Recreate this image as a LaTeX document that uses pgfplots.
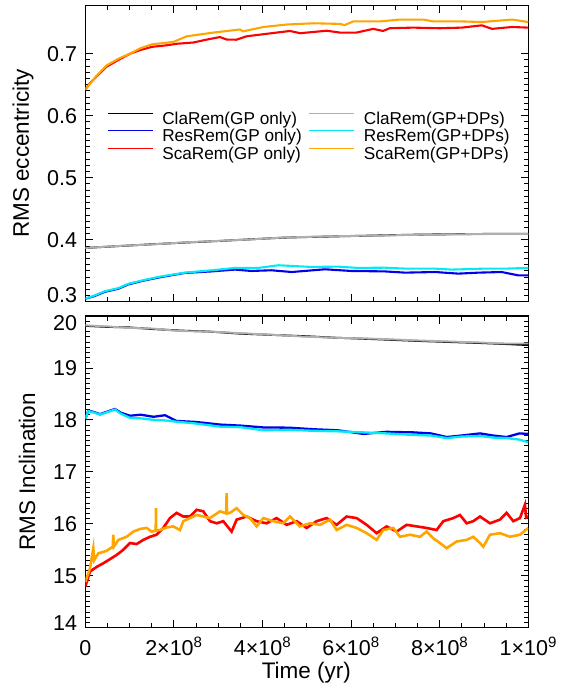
\documentclass[border=0pt]{standalone}
\usepackage{fontspec}
\setmainfont{Liberation Sans}
\usepackage{pgfplots}
\pgfplotsset{compat=1.18}
\definecolor{cgray}{RGB}{175,175,175}
\definecolor{cblue}{RGB}{0,0,235}
\definecolor{ccyan}{RGB}{0,235,245}
\definecolor{cred}{RGB}{255,0,0}
\definecolor{corange}{RGB}{255,165,0}
\pgfplotsset{
  myaxis/.style={
    scale only axis, width=443bp,
    xmin=0, xmax=10, xtick={0,2,...,10}, minor x tick num=3,
    tick align=inside, tick pos=both,
    major tick length=7.5bp, minor tick length=4.5bp,
    every tick/.style={black, line width=0.9bp},
    axis line style={line width=1.1bp},
    tick label style={font=\fontsize{21.5bp}{24bp}\selectfont},
    label style={font=\fontsize{22.5bp}{26bp}\selectfont},
    yticklabel style={anchor=east, inner sep=0pt, xshift=-8bp},
  }
}
\begin{document}
\begin{tikzpicture}
\path[use as bounding box] (-85.3bp,-57.3bp) rectangle (475.7bp,627.7bp);
% ---------------- bottom panel ----------------
\begin{axis}[myaxis, name=bot, at={(0,0)}, anchor=south west,
  height=311.7bp, ymin=14, ymax=20, ytick={14,...,20}, minor y tick num=9,
  yticklabels={\raisebox{5bp}[0.72em][0pt]{14},15,16,17,18,19,\raisebox{-7bp}[0.72em][0pt]{20}},
  xticklabels={0,2×10\textsuperscript{8},4×10\textsuperscript{8},6×10\textsuperscript{8},8×10\textsuperscript{8},1×10\textsuperscript{9}},
  xticklabel style={anchor=base, inner sep=0pt, yshift=-27.3bp},
  xlabel={Time (yr)}, xlabel style={at={(axis description cs:0.499,-0.1457)}, anchor=center},
  ylabel={RMS Inclination}, ylabel style={at={(axis description cs:-0.1316,0.5)}, anchor=center},
]
\addplot[black, line width=1.9bp] coordinates {(0,19.81)(0.5,19.79)(1.0,19.78)(1.5,19.75)(2.14,19.72)(2.8,19.70)(3.5,19.66)(4.4,19.63)(5.0,19.61)(5.7,19.58)(6.65,19.55)(7.5,19.52)(8.2,19.50)(8.91,19.48)(9.5,19.46)(10,19.44)};
\addplot[cgray, line width=1.9bp] coordinates {(0,19.82)(0.5,19.80)(1.0,19.77)(1.5,19.76)(2.14,19.71)(2.8,19.70)(3.5,19.67)(4.4,19.63)(5.0,19.60)(5.7,19.58)(6.65,19.56)(7.5,19.53)(8.2,19.51)(8.91,19.49)(9.5,19.47)(10,19.47)};
\addplot[cblue, line width=2.3bp] coordinates {(0,18.02)(0.07,18.18)(0.2,18.15)(0.33,18.11)(0.5,18.16)(0.67,18.21)(0.8,18.14)(1.01,18.08)(1.25,18.10)(1.54,18.06)(1.8,18.09)(2.06,17.98)(2.5,17.96)(3.04,17.91)(3.5,17.89)(4.02,17.855)(4.6,17.85)(5.15,17.82)(5.7,17.80)(6.28,17.73)(6.8,17.77)(7.40,17.76)(7.8,17.74)(8.16,17.67)(8.5,17.70)(8.91,17.74)(9.2,17.70)(9.51,17.67)(9.8,17.74)(10,17.73)};
\addplot[ccyan, line width=2.3bp] coordinates {(0,18.02)(0.07,18.17)(0.2,18.14)(0.33,18.10)(0.5,18.15)(0.67,18.20)(0.8,18.12)(1.01,18.04)(1.25,18.03)(1.54,18.00)(1.8,17.99)(2.06,17.965)(2.5,17.93)(3.04,17.87)(3.5,17.86)(4.02,17.80)(4.6,17.81)(5.15,17.79)(5.7,17.78)(6.28,17.76)(6.8,17.74)(7.40,17.71)(7.8,17.70)(8.16,17.65)(8.5,17.68)(8.91,17.69)(9.2,17.66)(9.51,17.65)(9.8,17.62)(10,17.57)};
\addplot[cred, line width=2.6bp] coordinates {(0,14.79)(0.105,15.08)(0.256,15.17)(0.406,15.24)(0.557,15.32)(0.707,15.40)(0.858,15.50)(1.008,15.63)(1.159,15.61)(1.309,15.69)(1.46,15.75)(1.61,15.79)(1.761,15.92)(1.911,16.11)(2.062,16.21)(2.212,16.14)(2.363,16.14)(2.513,16.27)(2.664,16.24)(2.814,16.05)(2.965,16.01)(3.115,16.05)(3.303,15.85)(3.416,16.08)(3.642,16.14)(3.868,16.05)(4.093,16.01)(4.319,16.11)(4.545,15.98)(4.771,16.05)(4.996,15.92)(5.222,16.05)(5.448,16.11)(5.673,15.98)(5.899,16.14)(6.125,16.11)(6.351,15.98)(6.576,15.82)(6.802,15.95)(7.028,15.85)(7.254,15.98)(7.479,15.95)(7.705,15.92)(7.931,15.88)(8.081,16.05)(8.307,16.11)(8.457,16.17)(8.608,16.01)(8.758,16.05)(8.909,16.14)(9.135,16.01)(9.36,16.08)(9.511,16.21)(9.661,16.05)(9.812,16.11)(9.925,16.37)(9.95,16.12)(10,16.14)};
\addplot[corange, line width=2.6bp] coordinates {(0,14.88)(0.105,15.14)(0.181,15.53)(0.2,15.30)(0.293,15.43)(0.482,15.48)(0.62,15.56)(0.632,15.79)(0.645,15.56)(0.745,15.69)(0.933,15.75)(1.084,15.85)(1.234,15.90)(1.385,15.92)(1.497,15.85)(1.59,15.87)(1.595,16.30)(1.60,15.87)(1.685,15.88)(1.836,15.93)(1.986,15.95)(2.137,15.88)(2.212,16.05)(2.363,16.11)(2.513,16.17)(2.664,16.14)(2.814,16.11)(3.04,16.24)(3.18,16.20)(3.19,16.59)(3.20,16.20)(3.266,16.21)(3.416,16.30)(3.567,16.17)(3.717,16.11)(3.868,15.95)(4.018,16.11)(4.244,16.05)(4.47,16.01)(4.62,16.14)(4.846,15.95)(5.071,16.01)(5.297,15.98)(5.523,16.08)(5.673,15.88)(5.899,15.98)(6.125,15.92)(6.351,15.82)(6.576,15.69)(6.727,15.88)(6.953,15.92)(7.103,15.75)(7.329,15.79)(7.555,15.75)(7.705,15.85)(7.855,15.72)(8.006,15.63)(8.157,15.53)(8.382,15.66)(8.608,15.69)(8.758,15.75)(8.909,15.63)(8.984,15.56)(9.135,15.79)(9.36,15.82)(9.586,15.75)(9.812,15.79)(10,15.92)};
\end{axis}
% ---------------- top panel ----------------
\begin{axis}[myaxis, at={(0,325.9bp)}, anchor=south west,
  height=296.5bp, ymin=0.3, ymax=0.778, ytick={0.3,0.4,0.5,0.6,0.7}, minor y tick num=9,
  yticklabels={\raisebox{7.5bp}[0.72em][0pt]{0.3},0.4,0.5,0.6,0.7},
  xticklabels={},
  ylabel={RMS eccentricity}, ylabel style={at={(axis description cs:-0.1406,0.5)}, anchor=center},
  legend columns=2, legend cell align=left,
  legend style={draw=none, fill=none, at={(axis description cs:0.049,0.642)}, anchor=north west,
    inner sep=0pt, row sep=3.8bp, font=\fontsize{17.2bp}{19bp}\selectfont,
    nodes={inner sep=0pt},
    /tikz/every odd column/.append style={column sep=9bp},
    /tikz/every even column/.append style={column sep=7bp}},
  legend image code/.code={\draw[#1, line width=1.1bp] (0bp,5.5bp) -- (45bp,5.5bp);},
]
\addplot[black, line width=1.9bp] coordinates {(0,0.3868)(0.75,0.3898)(1.5,0.3927)(2.25,0.3955)(3.0,0.398)(3.75,0.4008)(4.5,0.4035)(5.25,0.4048)(6.0,0.406)(6.75,0.4072)(7.5,0.4083)(8.25,0.4089)(9.0,0.4094)(9.5,0.4094)(10,0.4094)};
\addlegendentry{ClaRem(GP only)}
\addplot[cgray, line width=1.9bp] coordinates {(0,0.3868)(0.75,0.3900)(1.5,0.3925)(2.25,0.3958)(3.0,0.3982)(3.75,0.4006)(4.5,0.4037)(5.25,0.4050)(6.0,0.4062)(6.75,0.4070)(7.5,0.4080)(8.25,0.4088)(9.0,0.4092)(9.5,0.4093)(10,0.4092)};
\addlegendentry{ClaRem(GP+DPs)}
\addplot[cblue, line width=2.1bp] coordinates {(0,0.305)(0.2,0.309)(0.44,0.316)(0.745,0.321)(0.97,0.328)(1.35,0.3347)(1.72,0.340)(2.25,0.3465)(2.85,0.349)(3.38,0.3519)(3.75,0.3497)(4.2,0.3508)(4.66,0.348)(5.0,0.350)(5.41,0.3524)(6.0,0.3497)(6.76,0.349)(7.22,0.347)(7.9,0.348)(8.42,0.3454)(8.87,0.347)(9.4,0.348)(9.77,0.3427)(10,0.3427)};
\addlegendentry{ResRem(GP only)}
\addplot[ccyan, line width=2.1bp] coordinates {(0,0.305)(0.2,0.310)(0.44,0.317)(0.745,0.322)(0.97,0.329)(1.35,0.3355)(1.72,0.341)(2.25,0.347)(2.85,0.3508)(3.38,0.3546)(3.9,0.3546)(4.36,0.3589)(4.66,0.3578)(5.1,0.3562)(5.7,0.3567)(6.16,0.3546)(6.76,0.355)(7.22,0.3535)(7.9,0.3535)(8.27,0.3519)(9.02,0.3535)(9.5,0.3535)(10,0.3546)};
\addlegendentry{ResRem(GP+DPs)}
\addplot[cred, line width=2.1bp] coordinates {(0,0.642)(0.1,0.652)(0.25,0.663)(0.48,0.679)(0.75,0.690)(1.01,0.700)(1.25,0.706)(1.50,0.711)(1.84,0.7135)(2.07,0.716)(2.44,0.718)(2.74,0.7227)(3.04,0.7268)(3.19,0.7228)(3.41,0.7225)(3.64,0.728)(4.09,0.732)(4.62,0.7366)(4.85,0.733)(5.45,0.737)(5.75,0.734)(6.12,0.734)(6.5,0.740)(6.72,0.7366)(6.87,0.741)(7.4,0.742)(8.0,0.741)(8.5,0.742)(8.95,0.7457)(9.18,0.740)(9.63,0.743)(10,0.742)};
\addlegendentry{ScaRem(GP only)}
\addplot[corange, line width=2.1bp] coordinates {(0,0.642)(0.1,0.651)(0.25,0.664)(0.48,0.681)(0.75,0.692)(1.01,0.700)(1.25,0.709)(1.50,0.715)(1.99,0.719)(2.29,0.728)(2.89,0.734)(3.49,0.739)(3.56,0.736)(4.02,0.743)(4.55,0.747)(5.15,0.749)(5.75,0.748)(5.85,0.746)(6.05,0.752)(6.65,0.752)(7.10,0.755)(7.63,0.755)(7.85,0.752)(8.5,0.752)(8.95,0.751)(9.64,0.755)(10,0.751)};
\addlegendentry{ScaRem(GP+DPs)}
\end{axis}
\end{tikzpicture}
\end{document}
